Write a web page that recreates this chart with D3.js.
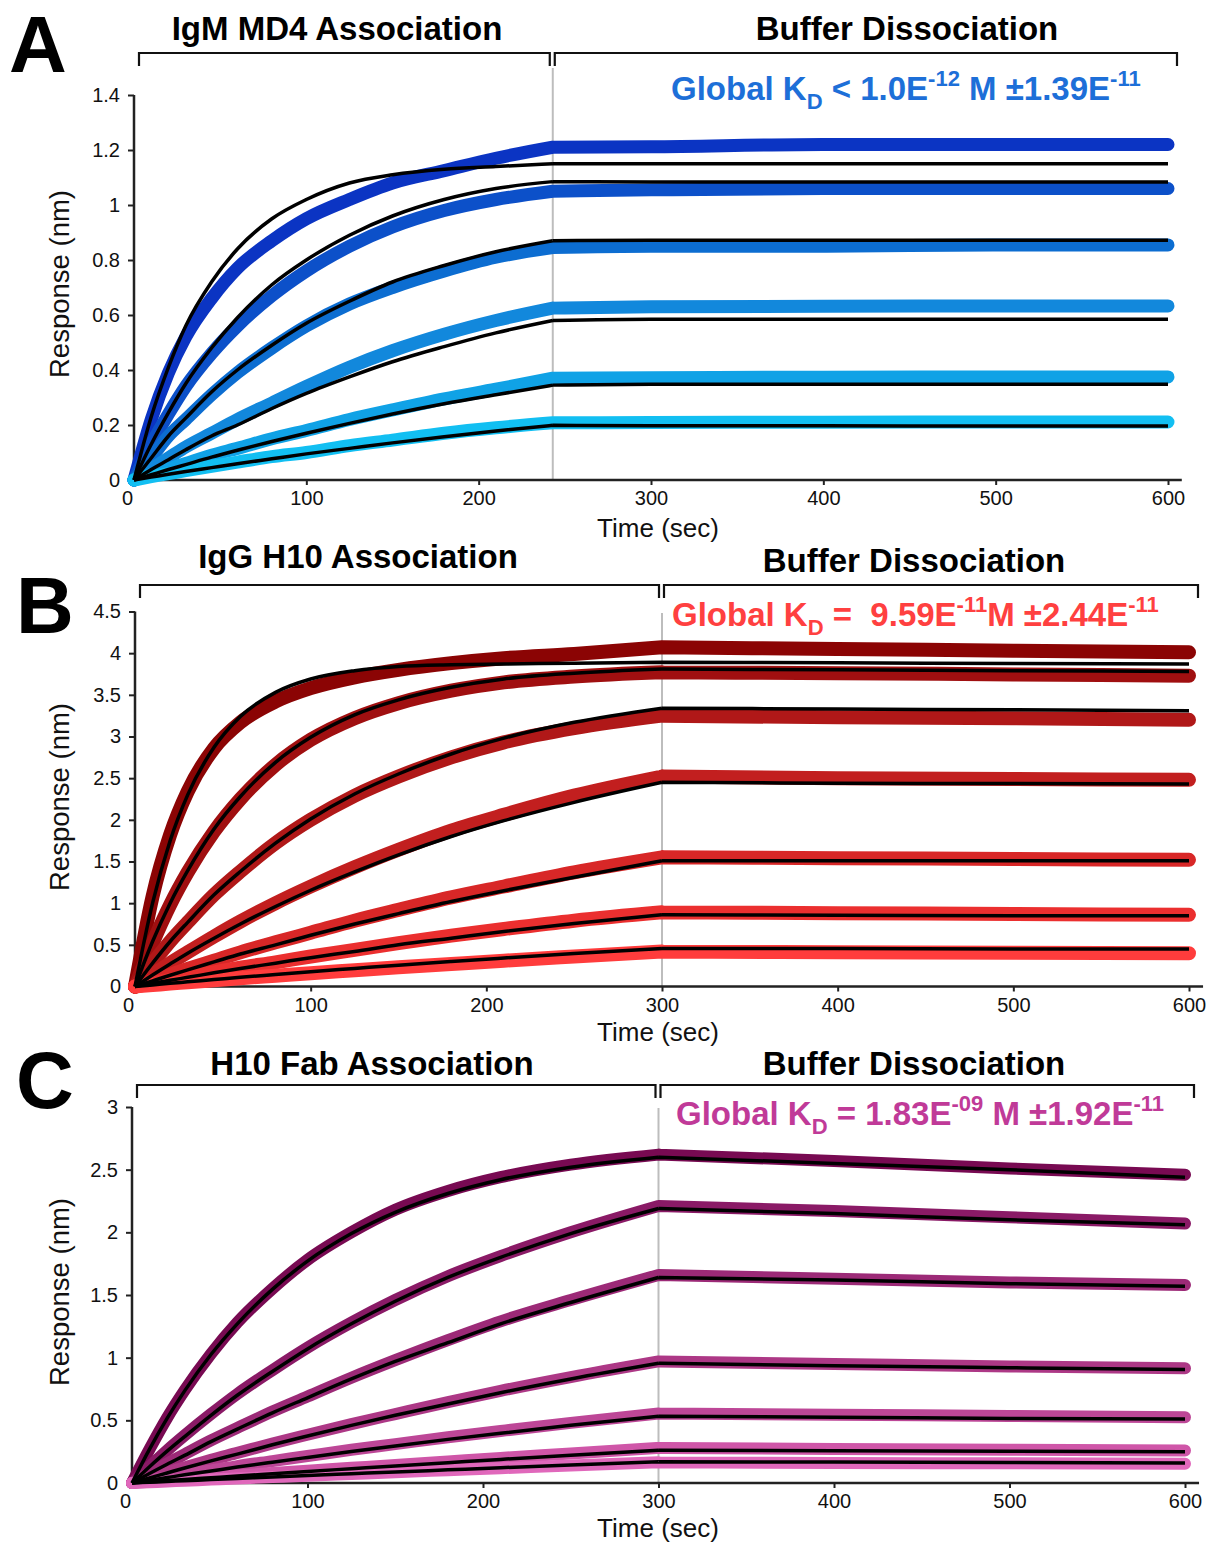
<!DOCTYPE html>
<html>
<head>
<meta charset="utf-8">
<script src="https://cdn.jsdelivr.net/npm/d3@7"></script>
<style>
  body { margin: 0; background: #fff; }
  svg { display: block; font-family: "Liberation Sans", Arial, sans-serif; }
</style>
</head>
<body>
<script>
// ---- data ----
const xTicks = [0, 100, 200, 300, 400, 500, 600];

// Panel A: IgM MD4
const timeA = [0, 10, 20, 30, 45, 60, 80, 100, 125, 150, 180, 210, 243, 300, 400, 500, 600];
const dataA = [
  [0, 0.22, 0.39, 0.52, 0.66, 0.77, 0.87, 0.95, 1.02, 1.08, 1.125, 1.17, 1.21, 1.212, 1.22, 1.22, 1.22],
  [0, 0.13, 0.24, 0.34, 0.46, 0.56, 0.67, 0.76, 0.85, 0.92, 0.98, 1.02, 1.05, 1.055, 1.06, 1.06, 1.06],
  [0, 0.08, 0.16, 0.22, 0.31, 0.39, 0.48, 0.56, 0.64, 0.70, 0.76, 0.81, 0.845, 0.85, 0.85, 0.855, 0.855],
  [0, 0.04, 0.08, 0.12, 0.17, 0.22, 0.28, 0.34, 0.41, 0.47, 0.53, 0.58, 0.625, 0.63, 0.632, 0.633, 0.633],
  [0, 0.02, 0.04, 0.06, 0.09, 0.115, 0.15, 0.18, 0.22, 0.255, 0.295, 0.33, 0.37, 0.372, 0.374, 0.375, 0.375],
  [0, 0.012, 0.023, 0.034, 0.05, 0.065, 0.085, 0.10, 0.125, 0.145, 0.17, 0.19, 0.208, 0.209, 0.21, 0.211, 0.211]
];
const fitA = [
  [0, 0.23, 0.41, 0.56, 0.72, 0.84, 0.95, 1.02, 1.08, 1.11, 1.13, 1.14, 1.15, 1.15, 1.15, 1.15, 1.15],
  [0, 0.13, 0.245, 0.35, 0.48, 0.59, 0.71, 0.80, 0.89, 0.96, 1.02, 1.06, 1.085, 1.084, 1.084, 1.084, 1.084],
  [0, 0.08, 0.16, 0.225, 0.32, 0.40, 0.49, 0.57, 0.65, 0.72, 0.78, 0.83, 0.87, 0.872, 0.872, 0.872, 0.872],
  [0, 0.038, 0.074, 0.11, 0.16, 0.20, 0.26, 0.315, 0.375, 0.43, 0.485, 0.535, 0.58, 0.585, 0.585, 0.585, 0.585],
  [0, 0.019, 0.038, 0.056, 0.083, 0.108, 0.14, 0.17, 0.206, 0.24, 0.277, 0.31, 0.345, 0.348, 0.348, 0.348, 0.348],
  [0, 0.0104, 0.021, 0.031, 0.045, 0.059, 0.077, 0.095, 0.115, 0.135, 0.157, 0.178, 0.199, 0.197, 0.197, 0.196, 0.196]
];
const colorsA = ["#0b34c3", "#0c50c9", "#0c6dd1", "#1288dc", "#10a2e6", "#12bff2"];
const yTicksA = [0, 0.2, 0.4, 0.6, 0.8, 1, 1.2, 1.4];
const kdA = [["Global K", ""], ["D", "sub"], [" < 1.0E", ""], ["-12", "sup"], [" M \u00b11.39E", ""], ["-11", "sup"]];

// Panel B: IgG H10
const timeB = [0, 10, 20, 30, 45, 60, 80, 100, 125, 150, 180, 210, 250, 300, 400, 500, 600];
const dataB = [
  [0, 1.08, 1.82, 2.34, 2.86, 3.17, 3.42, 3.58, 3.71, 3.80, 3.88, 3.94, 3.99, 4.07, 4.05, 4.03, 4.01],
  [0, 0.52, 0.98, 1.37, 1.86, 2.25, 2.66, 2.96, 3.22, 3.40, 3.55, 3.65, 3.72, 3.77, 3.76, 3.745, 3.73],
  [0, 0.28, 0.54, 0.77, 1.10, 1.38, 1.72, 2.00, 2.29, 2.52, 2.75, 2.93, 3.10, 3.25, 3.23, 3.22, 3.20],
  [0, 0.14, 0.28, 0.41, 0.60, 0.78, 1.00, 1.20, 1.43, 1.64, 1.87, 2.06, 2.29, 2.52, 2.50, 2.49, 2.48],
  [0, 0.07, 0.14, 0.21, 0.31, 0.41, 0.53, 0.645, 0.79, 0.92, 1.07, 1.20, 1.37, 1.55, 1.54, 1.53, 1.52],
  [0, 0.04, 0.08, 0.115, 0.17, 0.225, 0.29, 0.36, 0.44, 0.52, 0.61, 0.69, 0.79, 0.89, 0.88, 0.87, 0.86],
  [0, 0.017, 0.035, 0.05, 0.075, 0.10, 0.13, 0.16, 0.195, 0.23, 0.27, 0.31, 0.36, 0.42, 0.41, 0.405, 0.40]
];
const fitB = [
  [0, 1.00, 1.75, 2.30, 2.87, 3.24, 3.53, 3.69, 3.79, 3.84, 3.86, 3.87, 3.88, 3.89, 3.885, 3.875, 3.87],
  [0, 0.54, 1.00, 1.39, 1.89, 2.28, 2.69, 2.99, 3.26, 3.44, 3.59, 3.69, 3.76, 3.81, 3.80, 3.79, 3.78],
  [0, 0.28, 0.54, 0.77, 1.10, 1.38, 1.72, 2.01, 2.31, 2.55, 2.79, 2.98, 3.17, 3.34, 3.33, 3.32, 3.31],
  [0, 0.137, 0.27, 0.40, 0.58, 0.75, 0.96, 1.155, 1.375, 1.58, 1.80, 1.99, 2.21, 2.45, 2.44, 2.435, 2.43],
  [0, 0.068, 0.135, 0.20, 0.295, 0.39, 0.50, 0.615, 0.75, 0.875, 1.02, 1.15, 1.31, 1.51, 1.51, 1.51, 1.51],
  [0, 0.038, 0.075, 0.11, 0.164, 0.216, 0.28, 0.346, 0.42, 0.50, 0.58, 0.66, 0.755, 0.86, 0.855, 0.85, 0.85],
  [0, 0.019, 0.038, 0.056, 0.083, 0.11, 0.144, 0.178, 0.217, 0.256, 0.30, 0.342, 0.396, 0.457, 0.455, 0.45, 0.45]
];
const colorsB = ["#8b0404", "#a00f10", "#b01818", "#c21f1f", "#d82727", "#eb2f2f", "#ff3c3c"];
const yTicksB = [0, 0.5, 1, 1.5, 2, 2.5, 3, 3.5, 4, 4.5];
const kdB = [["Global K", ""], ["D", "sub"], [" =  9.59E", ""], ["-11", "sup"], ["M \u00b12.44E", ""], ["-11", "sup"]];

// Panel C: H10 Fab
const timeC = [0, 10, 20, 30, 45, 60, 80, 100, 125, 150, 180, 210, 250, 300, 400, 500, 600];
const dataC = [
  [0, 0.27, 0.52, 0.74, 1.03, 1.28, 1.55, 1.78, 2.00, 2.18, 2.33, 2.44, 2.54, 2.62, 2.57, 2.51, 2.46],
  [0, 0.13, 0.26, 0.38, 0.55, 0.71, 0.90, 1.08, 1.28, 1.46, 1.65, 1.81, 2.00, 2.21, 2.17, 2.12, 2.07],
  [0, 0.08, 0.155, 0.23, 0.34, 0.44, 0.57, 0.69, 0.84, 0.98, 1.14, 1.29, 1.46, 1.66, 1.63, 1.60, 1.58],
  [0, 0.042, 0.084, 0.125, 0.185, 0.24, 0.315, 0.385, 0.47, 0.55, 0.645, 0.735, 0.845, 0.97, 0.95, 0.93, 0.915],
  [0, 0.024, 0.047, 0.07, 0.10, 0.135, 0.175, 0.215, 0.265, 0.31, 0.365, 0.415, 0.48, 0.555, 0.545, 0.535, 0.525],
  [0, 0.01, 0.02, 0.03, 0.045, 0.06, 0.079, 0.098, 0.121, 0.144, 0.172, 0.2, 0.235, 0.28, 0.272, 0.265, 0.26],
  [0, 0.006, 0.012, 0.018, 0.027, 0.036, 0.047, 0.058, 0.072, 0.086, 0.102, 0.118, 0.14, 0.165, 0.16, 0.157, 0.153]
];
const fitC = [
  [0, 0.27, 0.515, 0.735, 1.025, 1.27, 1.545, 1.77, 1.99, 2.16, 2.31, 2.42, 2.52, 2.60, 2.55, 2.50, 2.44],
  [0, 0.13, 0.254, 0.37, 0.54, 0.70, 0.89, 1.07, 1.27, 1.45, 1.64, 1.80, 1.99, 2.19, 2.15, 2.10, 2.06],
  [0, 0.076, 0.15, 0.22, 0.33, 0.43, 0.56, 0.68, 0.83, 0.97, 1.12, 1.27, 1.44, 1.64, 1.62, 1.59, 1.57],
  [0, 0.04, 0.08, 0.12, 0.177, 0.23, 0.305, 0.375, 0.46, 0.54, 0.63, 0.72, 0.83, 0.955, 0.935, 0.92, 0.905],
  [0, 0.022, 0.0435, 0.065, 0.096, 0.127, 0.166, 0.204, 0.251, 0.296, 0.348, 0.397, 0.46, 0.532, 0.525, 0.515, 0.51],
  [0, 0.0095, 0.019, 0.028, 0.042, 0.056, 0.074, 0.092, 0.114, 0.136, 0.162, 0.188, 0.222, 0.262, 0.258, 0.254, 0.25],
  [0, 0.006, 0.012, 0.018, 0.027, 0.036, 0.048, 0.06, 0.074, 0.088, 0.105, 0.122, 0.144, 0.17, 0.167, 0.163, 0.16]
];
const colorsC = ["#780a52", "#8a1a66", "#9c2a77", "#ad3886", "#bd4797", "#cf56a8", "#e068bb"];
const yTicksC = [0, 0.5, 1, 1.5, 2, 2.5, 3];
const kdC = [["Global K", ""], ["D", "sub"], [" = 1.83E", ""], ["-09", "sup"], [" M \u00b11.92E", ""], ["-11", "sup"]];

// ---- layout ----
const W = 1212, H = 1543;
const svg = d3.select("body").append("svg").attr("width", W).attr("height", H);

const panels = [
  { letter: "A", letterY: 72, letterX: 9, times: timeA, data: dataA, fit: fitA, colors: colorsA,
    yTicks: yTicksA, yMax: 1.4, xRange: [134, 1168], yRange: [480, 95], assocEnd: 243,
    titleL: "IgM MD4 Association", titleLX: 337, titleLY: 40, titleR: "Buffer Dissociation", titleRX: 907, titleRY: 40,
    bracketY: 53, lineTop: 68, kd: kdA, kdColor: "#1d6fd8", kdX: 671, kdY: 100,
    yLabelY: 284, xLabelY: 537, dataW: 13 },
  { letter: "B", letterY: 633, letterX: 16, times: timeB, data: dataB, fit: fitB, colors: colorsB,
    yTicks: yTicksB, yMax: 4.5, xRange: [135, 1189], yRange: [986.5, 611.5], assocEnd: 300,
    titleL: "IgG H10 Association", titleLX: 358, titleLY: 568, titleR: "Buffer Dissociation", titleRX: 914, titleRY: 572,
    bracketY: 585, lineTop: 613, kd: kdB, kdColor: "#ff4040", kdX: 672, kdY: 626,
    yLabelY: 797, xLabelY: 1041, dataW: 14 },
  { letter: "C", letterY: 1108, letterX: 16, times: timeC, data: dataC, fit: fitC, colors: colorsC,
    yTicks: yTicksC, yMax: 3, xRange: [132, 1185], yRange: [1483, 1107], assocEnd: 300,
    titleL: "H10 Fab Association", titleLX: 372, titleLY: 1075, titleR: "Buffer Dissociation", titleRX: 914, titleRY: 1075,
    bracketY: 1085, lineTop: 1108, kd: kdC, kdColor: "#c03a98", kdX: 676, kdY: 1125,
    yLabelY: 1292, xLabelY: 1537, dataW: 12 }
];

const fmt = d3.format("~g");

function drawPanel(p) {
  const g = svg.append("g");
  const x = d3.scaleLinear().domain([0, 600]).range(p.xRange);
  const y = d3.scaleLinear().domain([0, p.yMax]).range(p.yRange);
  const y0 = y(0), x0 = x(0);

  // panel letter
  g.append("text").attr("x", p.letterX).attr("y", p.letterY)
    .attr("font-size", 80).attr("font-weight", "bold").text(p.letter);

  // titles
  g.append("text").attr("x", p.titleLX).attr("y", p.titleLY).attr("text-anchor", "middle")
    .attr("font-size", 33).attr("font-weight", "bold").text(p.titleL);
  g.append("text").attr("x", p.titleRX).attr("y", p.titleRY).attr("text-anchor", "middle")
    .attr("font-size", 33).attr("font-weight", "bold").text(p.titleR);

  // brackets
  const by = p.bracketY, drop = 13;
  const split = x(p.assocEnd);
  const brackets = [[x0 + 5, split - 3], [split + 2, x(600) + 9]];
  g.selectAll(".bracket").data(brackets).join("path")
    .attr("fill", "none").attr("stroke", "#111").attr("stroke-width", 2.2)
    .attr("d", d => `M${d[0]},${by + drop}V${by}H${d[1]}V${by + drop}`);

  // vertical phase line
  g.append("line").attr("x1", split).attr("x2", split).attr("y1", p.lineTop).attr("y2", y0)
    .attr("stroke", "#bdbdbd").attr("stroke-width", 2);

  // axes
  const yAxis = g.append("g").attr("transform", `translate(${x0},0)`)
    .call(d3.axisLeft(y).tickValues(p.yTicks).tickFormat(fmt).tickSize(6).tickSizeOuter(0).tickPadding(8));
  const xAxis = g.append("g").attr("transform", `translate(0,${y0})`)
    .call(d3.axisBottom(x).tickValues(xTicks).tickSize(5).tickSizeOuter(0).tickPadding(6));
  [yAxis, xAxis].forEach(a => {
    a.select(".domain").remove();
    a.selectAll("line").attr("stroke", "#222").attr("stroke-width", 2);
    a.selectAll("text").attr("font-size", 20).attr("fill", "#111")
      .attr("font-family", "\"Liberation Sans\", Arial, sans-serif");
  });
  xAxis.selectAll(".tick").filter(d => d === 0).select("text").attr("dx", -7);
  g.append("line").attr("x1", x0).attr("x2", x(608)).attr("y1", y0).attr("y2", y0)
    .attr("stroke", "#222").attr("stroke-width", 2.5);
  g.append("line").attr("x1", x0).attr("x2", x0).attr("y1", y(p.yMax)).attr("y2", y0)
    .attr("stroke", "#222").attr("stroke-width", 2.5);

  // axis labels
  g.append("text").attr("transform", `translate(69,${p.yLabelY}) rotate(-90)`)
    .attr("text-anchor", "middle").attr("font-size", 27.5).attr("fill", "#111").text("Response (nm)");
  g.append("text").attr("x", 658).attr("y", p.xLabelY)
    .attr("text-anchor", "middle").attr("font-size", 26).attr("fill", "#111").text("Time (sec)");

  // curves: association and dissociation phases are separate smooth pieces
  const k = p.times.indexOf(p.assocEnd);
  const line = d3.line().x(d => x(d[0])).y(d => y(d[1])).curve(d3.curveMonotoneX);
  const phases = vals => {
    const pts = vals.map((v, i) => [p.times[i], v]);
    return line(pts.slice(0, k + 1)) + line(pts.slice(k));
  };
  g.append("g").selectAll("path").data(p.data).join("path")
    .attr("fill", "none").attr("stroke", (d, i) => p.colors[i])
    .attr("stroke-width", p.dataW).attr("stroke-linecap", "round").attr("stroke-linejoin", "round")
    .attr("d", phases);
  g.append("g").selectAll("path").data(p.fit).join("path")
    .attr("fill", "none").attr("stroke", "#000")
    .attr("stroke-width", 3.5).attr("stroke-linejoin", "round")
    .attr("d", phases);

  // KD annotation
  const kd = g.append("text").attr("x", p.kdX).attr("y", p.kdY)
    .attr("font-size", 33).attr("font-weight", "bold").attr("fill", p.kdColor)
    .style("white-space", "pre");
  let off = 0;
  p.kd.forEach(([txt, kind]) => {
    const target = kind === "sub" ? 9 : kind === "sup" ? -14 : 0;
    kd.append("tspan").attr("dy", target - off)
      .attr("font-size", kind ? 22 : 33).text(txt);
    off = target;
  });
}

panels.forEach(drawPanel);
</script>
</body>
</html>
